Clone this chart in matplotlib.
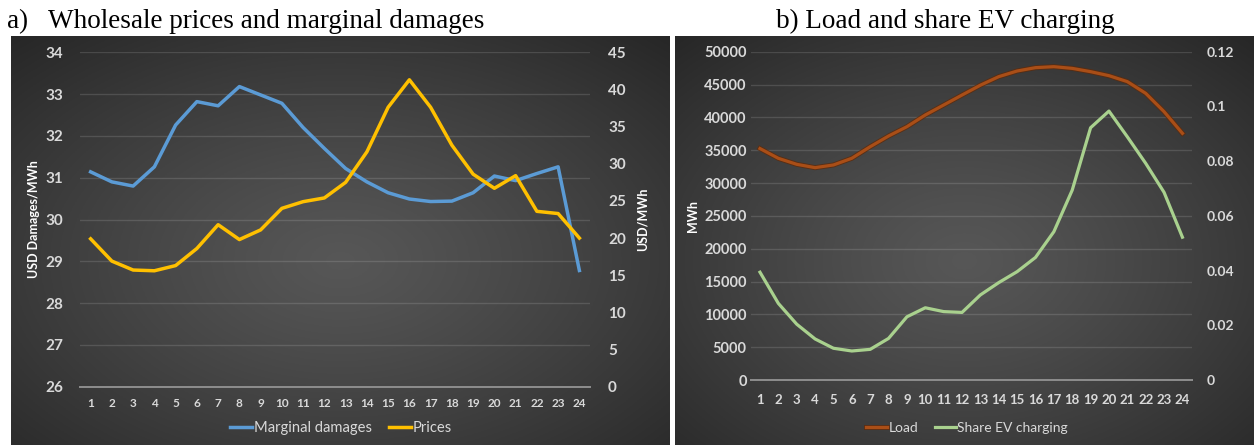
import numpy as np
import matplotlib
matplotlib.use('Agg')
import matplotlib.pyplot as plt
import matplotlib.patheffects as pe
from matplotlib.ticker import MultipleLocator, FuncFormatter

# data
hours = list(range(1, 25))

marginal_damages = [31.14, 30.90, 30.80, 31.26, 32.26, 32.82, 32.72, 33.18, 32.98, 32.78,
                    32.20, 31.70, 31.22, 30.90, 30.64, 30.49, 30.43, 30.44, 30.64, 31.04,
                    30.93, 31.10, 31.26, 28.78]
prices = [19.9, 16.9, 15.7, 15.6, 16.3, 18.6, 21.8, 19.8, 21.1, 24.0,
          24.9, 25.4, 27.5, 31.6, 37.6, 41.3, 37.6, 32.5, 28.6, 26.7,
          28.4, 23.6, 23.3, 20.0]

load = [35250, 33760, 32850, 32340, 32750, 33770, 35530, 37160, 38580, 40360,
        41880, 43400, 44900, 46200, 47060, 47570, 47720, 47460, 46960, 46350,
        45440, 43660, 40870, 37570]
share_ev = [0.0394, 0.0280, 0.0204, 0.0150, 0.0116, 0.0106, 0.0112, 0.0152, 0.0231, 0.0264,
            0.0250, 0.0247, 0.0311, 0.0356, 0.0396, 0.0448, 0.0542, 0.0694, 0.0922, 0.0983,
            0.0889, 0.0792, 0.0686, 0.0522]

W, H = 1254, 445
fig = plt.figure(figsize=(W / 100, H / 100), dpi=100)
fig.patch.set_facecolor('white')

txt = '#d9d9d9'
font = 'Lato'


def px(x0, y0, x1, y1):
    # pixel box -> figure fraction rect
    return [x0 / W, 1 - y1 / H, (x1 - x0) / W, (y1 - y0) / H]


def panel_bg(rect, cx=0.5, cy=0.45):
    bg = fig.add_axes(rect, zorder=0)
    ny, nx = 200, 300
    yy, xx = np.mgrid[0:1:ny * 1j, 0:1:nx * 1j]
    r = np.sqrt(((xx - cx) / 0.75) ** 2 + ((yy - cy) / 0.75) ** 2)
    r = np.clip(r, 0, 1)
    v = 0.34 - (0.34 - 0.15) * r ** 1.2
    img = np.dstack([v, v, v])
    bg.imshow(img, aspect='auto', origin='lower', extent=[0, 1, 0, 1])
    bg.axis('off')


panel_bg(px(11, 36, 669, 445))
panel_bg(px(675, 36, 1254, 445))

# panel titles
fig.text(7 / W, 1 - 28 / H, 'a)', family='Liberation Serif', fontsize=19.5, va='baseline')
fig.text(48 / W, 1 - 28 / H, 'Wholesale prices and marginal damages',
         family='Liberation Serif', fontsize=19.5, va='baseline')
fig.text(776 / W, 1 - 28 / H, 'b) Load and share EV charging',
         family='Liberation Serif', fontsize=19.5, va='baseline')


def style(ax):
    ax.set_facecolor('none')
    for s in ['top', 'left', 'right']:
        ax.spines[s].set_visible(False)
    ax.spines['bottom'].set_color('#8c8c8c')
    ax.spines['bottom'].set_linewidth(1.4)
    ax.tick_params(length=0, colors=txt)
    ax.set_xlim(0.5, 24.5)
    ax.set_xticks(hours)


# ---- a) prices and damages
ax1 = fig.add_axes(px(80, 52.3, 590, 386.7), zorder=2)
style(ax1)
ax1.set_ylim(26, 34)
ax1.yaxis.set_major_locator(MultipleLocator(1))
ax1.grid(axis='y', color='white', alpha=0.13, lw=1)
ax1.set_axisbelow(True)
ax1.tick_params(axis='y', pad=12)
ax1.tick_params(axis='x', pad=8)
for t in ax1.get_yticklabels():
    t.set_fontsize(11); t.set_fontweight('bold'); t.set_family(font)
for t in ax1.get_xticklabels():
    t.set_fontsize(8.5); t.set_fontweight('bold'); t.set_family(font)
ax1.set_ylabel('USD Damages/MWh', color='white', fontsize=9, fontweight='bold',
               family=font, labelpad=4)
l1, = ax1.plot(hours, marginal_damages, color='#5B9BD5', lw=2.5, solid_joinstyle='round')

ax2 = ax1.twinx()
style(ax2)
ax2.set_ylim(0, 45)
ax2.yaxis.set_major_locator(MultipleLocator(5))
ax2.tick_params(axis='y', pad=13)
for t in ax2.get_yticklabels():
    t.set_fontsize(11); t.set_fontweight('bold'); t.set_family(font)
ax2.set_ylabel('USD/MWh', color='white', fontsize=9, fontweight='bold',
               family=font, labelpad=8)
l2, = ax2.plot(hours, prices, color='#FFC000', lw=2.5, solid_joinstyle='round')

leg = fig.legend([l1, l2], ['Marginal damages', 'Prices'], loc='center',
                 bbox_to_anchor=(341 / W, 1 - 428 / H), ncol=2, frameon=False,
                 prop={'family': font, 'size': 10.6}, labelcolor=txt,
                 handlelength=1.5, handletextpad=0.1, columnspacing=1.2)

# ---- b) load and EV share
ax3 = fig.add_axes(px(750.8, 51.7, 1191.6, 380), zorder=2)
style(ax3)
ax3.set_ylim(0, 50000)
ax3.yaxis.set_major_locator(MultipleLocator(5000))
ax3.grid(axis='y', color='white', alpha=0.13, lw=1)
ax3.set_axisbelow(True)
ax3.tick_params(axis='y', pad=3)
ax3.tick_params(axis='x', pad=10)
for t in ax3.get_yticklabels():
    t.set_fontsize(10.5); t.set_fontweight('bold'); t.set_family(font)
for t in ax3.get_xticklabels():
    t.set_fontsize(9.5); t.set_fontweight('bold'); t.set_family(font)
ax3.set_ylabel('MWh', color='white', fontsize=9, fontweight='bold', family=font, labelpad=4)
l3, = ax3.plot(hours, load, color='#A94E17', lw=2.3, solid_joinstyle='round',
               path_effects=[pe.Stroke(linewidth=3.6, foreground='#5e2a0b', alpha=0.8), pe.Normal()])

ax4 = ax3.twinx()
style(ax4)
ax4.set_ylim(0, 0.12)
ax4.yaxis.set_major_locator(MultipleLocator(0.02))
ax4.yaxis.set_major_formatter(FuncFormatter(lambda v, p: '%g' % round(v, 2)))
ax4.tick_params(axis='y', pad=11)
for t in ax4.get_yticklabels():
    t.set_fontsize(10); t.set_fontweight('bold'); t.set_family(font)
l4, = ax4.plot(hours, share_ev, color='#A9D18E', lw=2.3, solid_joinstyle='round')

leg2 = fig.legend([l3, l4], ['Load', 'Share EV charging'], loc='center',
                  bbox_to_anchor=(967 / W, 1 - 428 / H), ncol=2, frameon=False,
                  prop={'family': font, 'size': 10}, labelcolor=txt,
                  handlelength=1.5, handletextpad=0.1, columnspacing=1.2)

fig.savefig('out.png', dpi=100)
